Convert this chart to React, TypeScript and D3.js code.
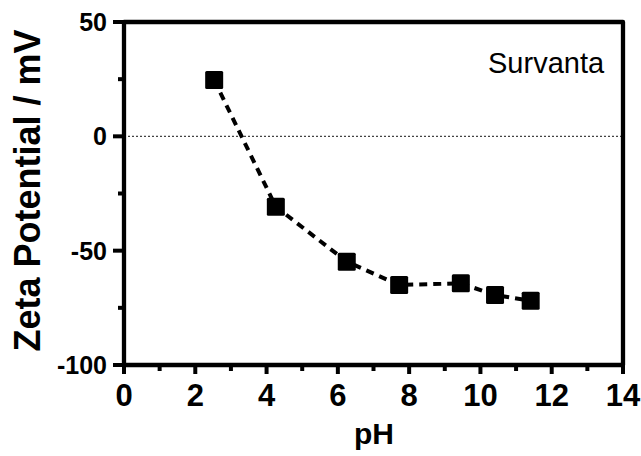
import React from "react";
import * as d3 from "d3";

const pHValues = [2.53, 4.26, 6.25, 7.72, 9.45, 10.41, 11.41];
const zetaValues = [24.6, -30.8, -54.8, -65.0, -64.3, -69.4, -71.9];
const xMajorTicks = [0, 2, 4, 6, 8, 10, 12, 14];
const xMinorTicks = [1, 3, 5, 7, 9, 11, 13];
const yMajorTicks = [-100, -50, 0, 50];
const yMinorTicks = [-75, -25, 25];
const seriesLabel = "Survanta";
const xTitle = "pH";
const yTitle = "Zeta Potential / mV";

const W = 641;
const H = 456;
const left = 124, right = 623, top = 22, bottom = 365;

export default function App() {
  const x = d3.scaleLinear().domain([0, 14]).range([left, right]);
  const y = d3.scaleLinear().domain([-100, 50]).range([bottom, top]);
  const pts = pHValues.map((v, i) => [x(v), y(zetaValues[i])] as [number, number]);
  const line = d3.line().curve(d3.curveLinear)(pts) || "";
  const font = "'Liberation Sans', Arial, Helvetica, sans-serif";
  const sq = 18;
  return (
    <div style={{ position: "absolute", left: 0, top: 0 }}>
      <svg width={W} height={H} style={{ display: "block", background: "#fff" }} fontFamily={font}>
        {/* zero reference line */}
        <line x1={left} x2={right} y1={y(0)} y2={y(0)} stroke="#444" strokeWidth={1.3} strokeDasharray="2,2" />
        {/* dashed fit line */}
        <path d={line} fill="none" stroke="#000" strokeWidth={4} strokeDasharray="8,6" />
        {/* markers */}
        {pts.map((p, i) => (
          <rect key={i} x={p[0] - sq / 2} y={p[1] - sq / 2} width={sq} height={sq} fill="#000" rx={1.5} />
        ))}
        {/* frame */}
        <rect x={left} y={top} width={right - left} height={bottom - top} fill="none" stroke="#000" strokeWidth={4.3} strokeLinejoin="round" />
        {/* x ticks */}
        {xMajorTicks.map((t) => (
          <g key={"xm" + t}>
            <line x1={x(t)} x2={x(t)} y1={bottom} y2={bottom + 9} stroke="#000" strokeWidth={4} />
            <text x={x(t)} y={406} textAnchor="middle" fontSize={31} fontWeight="bold">{t}</text>
          </g>
        ))}
        {xMinorTicks.map((t) => (
          <line key={"xn" + t} x1={x(t)} x2={x(t)} y1={bottom} y2={bottom + 6} stroke="#000" strokeWidth={4} />
        ))}
        {/* y ticks */}
        {yMajorTicks.map((t) => (
          <g key={"ym" + t}>
            <line x1={left - 11} x2={left} y1={y(t)} y2={y(t)} stroke="#000" strokeWidth={4} />
            <text x={107} y={y(t)} dy="0.36em" textAnchor="end" fontSize={25} fontWeight="bold">{t}</text>
          </g>
        ))}
        {yMinorTicks.map((t) => (
          <line key={"yn" + t} x1={left - 6} x2={left} y1={y(t)} y2={y(t)} stroke="#000" strokeWidth={4} />
        ))}
        {/* titles */}
        <text x={374} y={444} textAnchor="middle" fontSize={30} fontWeight="bold">{xTitle}</text>
        <text transform={`translate(40,${(top + bottom) / 2 - 3}) rotate(-90)`} textAnchor="middle" fontSize={36} fontWeight="bold">{yTitle}</text>
        <text x={488} y={73} fontSize={29}>{seriesLabel}</text>
      </svg>
    </div>
  );
}
